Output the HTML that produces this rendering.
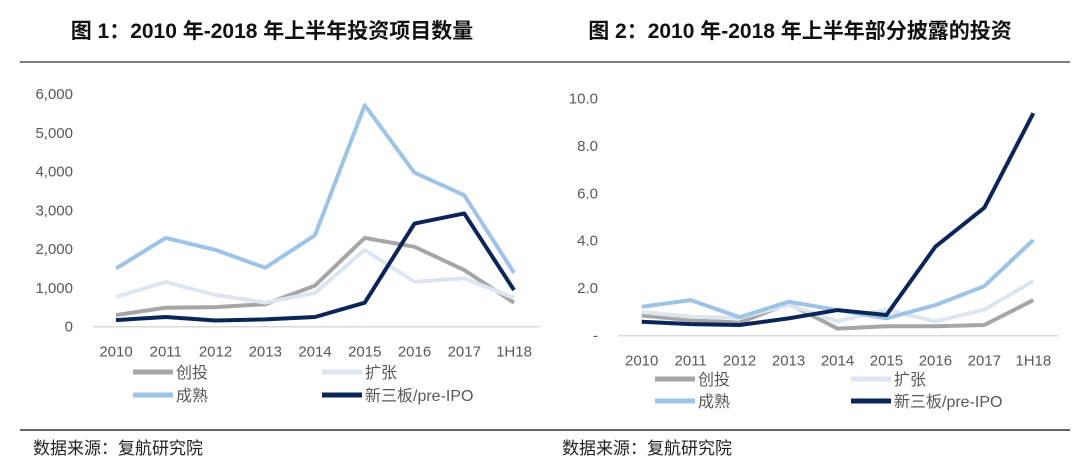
<!DOCTYPE html>
<html><head><meta charset="utf-8">
<style>
body{margin:0;width:1080px;height:470px;background:#fff;overflow:hidden;font-family:"Liberation Sans","Noto Sans CJK SC",sans-serif;}
svg{position:absolute;left:0;top:0}
</style></head>
<body>
<svg width="1080" height="470">
<text x="272" y="38" text-anchor="middle" font-size="21" font-weight="bold" fill="#111">图 1：2010 年-2018 年上半年投资项目数量</text>
<text x="800" y="38" text-anchor="middle" font-size="21" font-weight="bold" fill="#111">图 2：2010 年-2018 年上半年部分披露的投资</text>
<line x1="20" y1="62" x2="1070" y2="62" stroke="#555" stroke-width="1.5"/>
<line x1="20" y1="430" x2="1070" y2="430" stroke="#333" stroke-width="1.5"/>
<text x="33" y="454" font-size="17" fill="#222">数据来源：复航研究院</text>
<text x="562" y="454" font-size="17" fill="#222">数据来源：复航研究院</text>
<g id="c1"></g>
<g id="c2"></g>
</svg>
<script>
const categories=["2010","2011","2012","2013","2014","2015","2016","2017","1H18"];
const seriesNames=["创投","扩张","成熟","新三板/pre-IPO"];
const c1VC=[300,490,505,580,1060,2290,2060,1460,620];
const c1Exp=[770,1150,820,620,870,1980,1160,1250,740];
const c1Mat=[1500,2290,1980,1520,2360,5710,3970,3390,1390];
const c1Neeq=[170,250,160,190,250,620,2660,2920,945];
const c1Ticks=[0,1000,2000,3000,4000,5000,6000];
const c1TickLabels=["0","1,000","2,000","3,000","4,000","5,000","6,000"];
const c2VC=[0.85,0.65,0.55,1.35,0.3,0.4,0.4,0.45,1.5];
const c2Exp=[1.0,0.8,0.75,1.3,0.6,1.1,0.6,1.1,2.3];
const c2Mat=[1.22,1.5,0.78,1.43,1.08,0.73,1.29,2.09,4.03];
const c2Neeq=[0.59,0.49,0.45,0.73,1.08,0.87,3.75,5.39,9.37];
const c2Ticks=[0,2,4,6,8,10];
const c2TickLabels=["-","2.0","4.0","6.0","8.0","10.0"];
const colors=["#a6a6a6","#dde6f0","#9dc3e6","#0c2559"];
const NS="http://www.w3.org/2000/svg";
function mk(tag,attrs,parent){const e=document.createElementNS(NS,tag);for(const k in attrs)e.setAttribute(k,attrs[k]);parent.appendChild(e);return e;}
function draw(g,cfg,series,ticks,labels){
  const xS=i=>cfg.x0+i*(cfg.x1-cfg.x0)/(categories.length-1);
  const yS=v=>cfg.yb-(v/cfg.max)*(cfg.yb-cfg.yt);
  ticks.forEach((t,i)=>{const e=mk("text",{x:cfg.lx,y:yS(t)+5,"text-anchor":"end","font-size":15,fill:"#595959"},g);e.textContent=labels[i];
    
    });
  const ax=mk("line",{x1:cfg.ax0,y1:cfg.yb,x2:cfg.ax1,y2:cfg.yb,stroke:"#d9d9d9","stroke-width":1.5},g);
  
  
  categories.forEach((c,i)=>{const e=mk("text",{x:xS(i),y:cfg.yb+30,"text-anchor":"middle","font-size":15,fill:"#595959"},g);e.textContent=c;
    
    });
  series.forEach((s,k)=>{const p=mk("polyline",{points:s.map((v,i)=>xS(i)+","+yS(v)).join(" "),fill:"none",stroke:colors[k],"stroke-width":4,"stroke-linejoin":"round"},g);
    
    });
  seriesNames.forEach((n,k)=>{const lx=cfg.leg[k%2],ly=cfg.legY[Math.floor(k/2)];
    const l=mk("line",{x1:lx,y1:ly,x2:lx+40,y2:ly,stroke:colors[k],"stroke-width":5},g);
    
    
    const t=mk("text",{x:lx+43,y:ly+6,"font-size":16,fill:"#595959"},g);t.textContent=n;
    
    });
}
draw(document.getElementById("c1"),{x0:116,x1:514,yb:326.7,yt:94,max:6000,lx:73,ax0:93,ax1:540,leg:[133,322],legY:[372,395]},[c1VC,c1Exp,c1Mat,c1Neeq],c1Ticks,c1TickLabels);
draw(document.getElementById("c2"),{x0:641.7,x1:1033.3,yb:335.7,yt:98.3,max:10,lx:598,ax0:618,ax1:1058,leg:[655,851],legY:[379,401]},[c2VC,c2Exp,c2Mat,c2Neeq],c2Ticks,c2TickLabels);
</script>
</body></html>
